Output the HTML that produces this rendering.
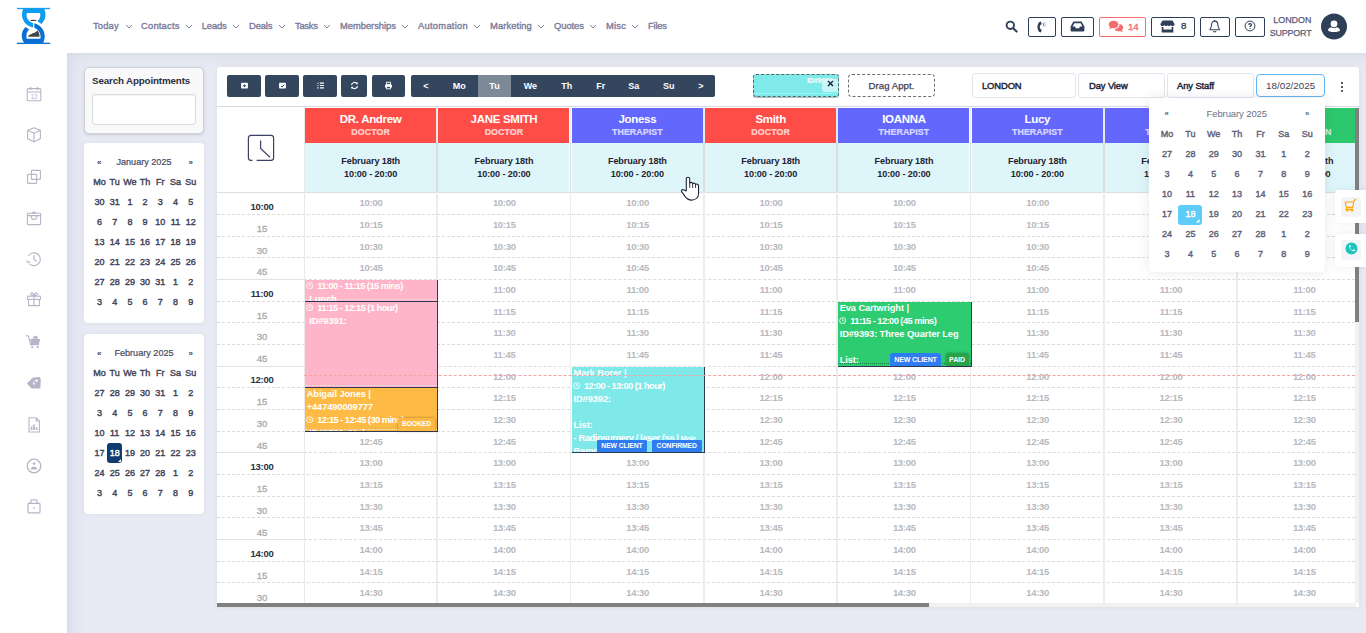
<!DOCTYPE html>
<html><head><meta charset="utf-8"><title>Calendar</title>
<style>
*{box-sizing:border-box;margin:0;padding:0}
html,body{width:1366px;height:633px;overflow:hidden}
body{background:#e7eaf3;font-family:"Liberation Sans",sans-serif;position:relative;color:#3f4254}
.abs{position:absolute}
.t{position:absolute;white-space:nowrap;line-height:1}
#hdr{left:0;top:0;width:1366px;height:53px;background:#fff}
#side{left:0;top:0;width:67px;height:633px;background:#fff}
#sideshadow{left:67px;top:53px;width:1320px;height:600px;box-shadow:inset 14px 12px 14px -10px rgba(90,100,150,.12)}
#topshadow{display:none}
.nav{color:#777998;font-size:9.4px;font-weight:400;-webkit-text-stroke:.33px #777998}
.chev{position:absolute;width:8px;height:5px}
.tb{position:absolute;top:17px;height:20px;border:1px solid #2f3f58;border-radius:2px;background:#fff}
.panel{position:absolute;background:#fff;border-radius:4px;box-shadow:0 0 5px rgba(82,63,105,.07)}
.mc{font-size:9px;color:#3f4358;font-weight:400;-webkit-text-stroke:.4px;text-align:center;width:16px;margin-left:-8px}
.mcw{font-weight:700}
.btn{position:absolute;top:75px;height:22px;background:#34465d;border-radius:2px}
.dn{position:absolute;top:75px;height:22px;color:#fff;font-size:9px;font-weight:700;line-height:22px;text-align:center}
.sel{position:absolute;top:73.3px;height:25px;border:1px solid #e4e6ef;border-radius:3px;background:#fff;font-size:9.4px;font-weight:400;-webkit-text-stroke:.45px;color:#23273a;line-height:23.4px;padding-left:9px;letter-spacing:-.1px}
.colh{position:absolute;top:108px;height:34.6px;color:#fff;text-align:center}
.colh .n{position:absolute;left:0;right:0;top:5px;font-size:11.5px;font-weight:700;line-height:12px;letter-spacing:-0.3px}
.colh .r{position:absolute;left:0;right:0;top:18.5px;font-size:8.8px;font-weight:700;line-height:10px;opacity:.74;letter-spacing:0.1px;-webkit-text-stroke:.2px #fff}
.cold{position:absolute;top:142.5px;height:49.7px;background:#def6f9;color:#1e2233;text-align:center;font-size:9.1px;font-weight:700;line-height:12.8px;padding-top:12.4px;letter-spacing:-0.1px}
.slot{position:absolute;color:#b8b8bd;font-size:9.5px;font-weight:700;text-align:center;width:60px;margin-left:-30px;line-height:10px;letter-spacing:-0.3px}
.hr{position:absolute;color:#2b2f3e;font-size:9.5px;font-weight:700;text-align:center;width:60px;margin-left:-30px;line-height:10px;letter-spacing:-0.3px}
.mn{position:absolute;color:#a9a9ae;-webkit-text-stroke:.3px #a9a9ae;font-size:9.5px;font-weight:400;text-align:center;width:60px;margin-left:-30px;line-height:10px}
.dash{position:absolute;height:0;border-top:1px dashed #dcdcdc}
.solid{position:absolute;height:1px;background:#e2e2e2}
.vl{position:absolute;width:1.85px;background:#ececec}
.ap{position:absolute;color:#fff;font-size:9.3px;font-weight:700;line-height:13px;overflow:hidden;white-space:nowrap;letter-spacing:-0.1px;border-right:1px solid #2c3a55;border-bottom:1px solid #2c3a55}
.ap div{padding-left:1.5px;height:13px}
.ap .tm{letter-spacing:-0.55px}
.bdg{position:absolute;color:#fff;font-size:6.8px;font-weight:700;line-height:11px;height:12px;text-align:center;border-radius:1px;letter-spacing:-0.1px}
.dp{font-size:9px;color:#5e6279;font-weight:400;-webkit-text-stroke:.4px;text-align:center;width:20px;margin-left:-10px}
</style></head><body>

<div class="abs" id="hdr"></div><div class="abs" id="topshadow"></div><div class="abs" id="sideshadow"></div><div class="abs" id="side"></div>
<svg class="abs" style="left:10px;top:2px" width="50" height="50" viewBox="0 0 633 633">
<rect x="88" y="74" width="420" height="17" fill="#1a9ff0"/>
<rect x="88" y="515" width="420" height="17" fill="#0d73d9"/>
<path d="M165 88 L435 88 C462 150 452 225 398 278 L348 243 C388 205 388 165 380 140 L215 140 C198 190 222 240 292 268 L292 322 C175 295 125 195 165 88 Z" fill="#0c9cf0"/>
<path d="M308 268 C425 295 470 420 420 520 L178 520 C128 440 150 360 197 318 L242 347 C205 385 203 430 213 466 L385 466 C396 420 378 360 308 326 Z" fill="#0a70d6"/>
<path d="M228 440 C245 398 318 405 346 362 C368 385 378 420 373 440 Z" fill="#444"/>
<ellipse cx="297" cy="234" rx="42" ry="8" fill="#444"/>
</svg>
<div class="t nav" style="left:93px;top:21.3px;letter-spacing:0.14px">Today</div>
<svg class="chev" style="left:124.5px;top:24px" viewBox="0 0 8 5"><path d="M1 1 L4 4 L7 1" fill="none" stroke="#7e8299" stroke-width="1"/></svg>
<div class="t nav" style="left:141px;top:21.3px;letter-spacing:0.20px">Contacts</div>
<svg class="chev" style="left:185px;top:24px" viewBox="0 0 8 5"><path d="M1 1 L4 4 L7 1" fill="none" stroke="#7e8299" stroke-width="1"/></svg>
<div class="t nav" style="left:201.8px;top:21.3px;letter-spacing:-0.14px">Leads</div>
<svg class="chev" style="left:232px;top:24px" viewBox="0 0 8 5"><path d="M1 1 L4 4 L7 1" fill="none" stroke="#7e8299" stroke-width="1"/></svg>
<div class="t nav" style="left:249px;top:21.3px;letter-spacing:-0.12px">Deals</div>
<svg class="chev" style="left:277.7px;top:24px" viewBox="0 0 8 5"><path d="M1 1 L4 4 L7 1" fill="none" stroke="#7e8299" stroke-width="1"/></svg>
<div class="t nav" style="left:295px;top:21.3px;letter-spacing:-0.27px">Tasks</div>
<svg class="chev" style="left:323px;top:24px" viewBox="0 0 8 5"><path d="M1 1 L4 4 L7 1" fill="none" stroke="#7e8299" stroke-width="1"/></svg>
<div class="t nav" style="left:340px;top:21.3px;letter-spacing:-0.04px">Memberships</div>
<svg class="chev" style="left:401px;top:24px" viewBox="0 0 8 5"><path d="M1 1 L4 4 L7 1" fill="none" stroke="#7e8299" stroke-width="1"/></svg>
<div class="t nav" style="left:418px;top:21.3px;letter-spacing:0.26px">Automation</div>
<svg class="chev" style="left:473px;top:24px" viewBox="0 0 8 5"><path d="M1 1 L4 4 L7 1" fill="none" stroke="#7e8299" stroke-width="1"/></svg>
<div class="t nav" style="left:490px;top:21.3px;letter-spacing:0.08px">Marketing</div>
<svg class="chev" style="left:537px;top:24px" viewBox="0 0 8 5"><path d="M1 1 L4 4 L7 1" fill="none" stroke="#7e8299" stroke-width="1"/></svg>
<div class="t nav" style="left:554px;top:21.3px;letter-spacing:-0.06px">Quotes</div>
<svg class="chev" style="left:589px;top:24px" viewBox="0 0 8 5"><path d="M1 1 L4 4 L7 1" fill="none" stroke="#7e8299" stroke-width="1"/></svg>
<div class="t nav" style="left:606px;top:21.3px;letter-spacing:0.19px">Misc</div>
<svg class="chev" style="left:631px;top:24px" viewBox="0 0 8 5"><path d="M1 1 L4 4 L7 1" fill="none" stroke="#7e8299" stroke-width="1"/></svg>
<div class="t nav" style="left:648px;top:21.3px;letter-spacing:-0.19px">Files</div>
<svg class="abs" style="left:1005px;top:20px" width="13" height="13" viewBox="0 0 13 13"><circle cx="5.3" cy="5.3" r="3.7" fill="none" stroke="#2f3f58" stroke-width="1.9"/><path d="M8.2 8.2 L11.6 11.6" stroke="#2f3f58" stroke-width="2.1" stroke-linecap="round"/></svg>
<div class="tb" style="left:1028px;width:28px"></div>
<svg class="abs" style="left:1035.5px;top:20.5px" width="12" height="12" viewBox="0 0 12 12"><path d="M4.9 .6 L2.9 1.2 C.9 4.4 .9 7.6 2.9 10.8 L4.9 11.4 L5.7 8.7 L4.3 7.9 C3.7 6.6 3.7 5.4 4.3 4.1 L5.7 3.3 Z" fill="#2f3f58"/><path d="M7 2.2 C7.7 2.9 7.7 4.3 7 5" fill="none" stroke="#2f3f58" stroke-width=".8"/><path d="M8.3 1 C9.6 2.3 9.6 4.9 8.3 6.2" fill="none" stroke="#9aa3b0" stroke-width=".8"/></svg>
<div class="tb" style="left:1061px;width:33px"></div>
<svg class="abs" style="left:1070px;top:21px" width="15" height="11" viewBox="0 0 15 11"><path d="M3.4 .6 L11.6 .6 L14.4 5.6 L14.4 9.4 Q14.4 10.4 13.4 10.4 L1.6 10.4 Q.6 10.4 .6 9.4 L.6 5.6 Z M4.3 2.2 L2.6 5.6 L5 5.6 L5.8 7.2 L9.2 7.2 L10 5.6 L12.4 5.6 L10.7 2.2 Z" fill="#2f3f58" fill-rule="evenodd"/></svg>
<div class="tb" style="left:1099px;width:47px;border-color:#f56c6c"></div>
<svg class="abs" style="left:1108px;top:20px" width="16" height="13" viewBox="0 0 16 13"><path d="M5.6 .8 C8.4 .8 10.4 2.4 10.4 4.5 C10.4 6.6 8.4 8.2 5.6 8.2 C5 8.2 4.5 8.1 4 8 C3.2 8.6 2.2 9 1.1 9 C1.6 8.4 2 7.7 2.1 7.1 C1.3 6.4 .8 5.5 .8 4.5 C.8 2.4 2.8 .8 5.6 .8 Z" fill="#f56c6c"/><path d="M11.4 4.1 C13.6 4.4 15.2 5.8 15.2 7.6 C15.2 8.6 14.7 9.5 13.9 10.1 C14 10.8 14.4 11.5 14.9 12.1 C13.8 12.1 12.8 11.7 12 11.1 C11.5 11.2 11 11.3 10.4 11.3 C8.6 11.3 7.1 10.5 6.3 9.3 C9.2 9.1 11.5 7.2 11.5 4.6 Z" fill="#f56c6c"/></svg>
<div class="t" style="left:1128px;top:21.5px;font-size:9.6px;font-weight:400;-webkit-text-stroke:.35px;color:#f26b6b;letter-spacing:-.2px">14</div>
<div class="tb" style="left:1151px;width:44px"></div>
<svg class="abs" style="left:1160px;top:20px" width="15" height="13" viewBox="0 0 15 13"><path d="M2.6 .5 L12.4 .5 L14.6 3.9 C14.6 5.3 13.6 6 12.6 6 C11.7 6 11 5.5 10.7 4.9 C10.4 5.5 9.7 6 8.8 6 C8.2 6 7.7 5.7 7.5 5.3 C7.3 5.7 6.8 6 6.2 6 C5.3 6 4.6 5.5 4.3 4.9 C4 5.5 3.3 6 2.4 6 C1.4 6 .4 5.3 .4 3.9 Z" fill="#2f3f58"/><path d="M1.7 7 L3.4 7 L3.4 9.6 L11.6 9.6 L11.6 7 L13.3 7 L13.3 12.5 L1.7 12.5 Z" fill="#2f3f58"/></svg>
<div class="t" style="left:1181px;top:21.3px;font-size:9.8px;font-weight:400;-webkit-text-stroke:.3px;color:#2f3f58">8</div>
<div class="tb" style="left:1200px;width:30px"></div>
<svg class="abs" style="left:1209.3px;top:19.8px" width="11.4" height="13.3" viewBox="0 0 12 14"><path d="M6 1.2 C3.8 1.2 2.7 3 2.7 5 C2.7 7.6 1.9 8.6 1.1 9.6 L1.1 10.3 L10.9 10.3 L10.9 9.6 C10.1 8.6 9.3 7.6 9.3 5 C9.3 3 8.2 1.2 6 1.2 Z" fill="none" stroke="#2f3f58" stroke-width="1.1" stroke-linejoin="round"/><path d="M6 .2 L6 1.3" stroke="#2f3f58" stroke-width="1.2"/><path d="M4.6 11.6 C4.8 12.9 7.2 12.9 7.4 11.6" fill="none" stroke="#2f3f58" stroke-width="1.1"/></svg>
<div class="tb" style="left:1235px;width:30px"></div>
<svg class="abs" style="left:1244px;top:20.2px" width="12" height="12" viewBox="0 0 12 12"><circle cx="6" cy="6" r="4.9" fill="none" stroke="#2f3f58" stroke-width="1"/><path d="M4.5 4.8 C4.5 3.2 7.5 3.2 7.5 4.8 C7.5 5.9 6 5.9 6 7.1" fill="none" stroke="#2f3f58" stroke-width="1.3"/><circle cx="6" cy="8.6" r=".65" fill="#2f3f58"/></svg>
<div class="t" style="left:1211.5px;width:100px;text-align:right;top:15.7px;font-size:8.9px;color:#5a5c78;-webkit-text-stroke:.25px #5a5c78;font-weight:400;letter-spacing:.05px">LONDON</div>
<div class="t" style="left:1211.5px;width:100px;text-align:right;top:28.7px;font-size:8.9px;color:#56607a;-webkit-text-stroke:.25px #56607a;font-weight:400;letter-spacing:-.15px">SUPPORT</div>
<svg class="abs" style="left:1321px;top:13px" width="26" height="27" viewBox="0 0 26 27"><circle cx="13" cy="13.5" r="13" fill="#2f3f58"/><circle cx="13" cy="10.8" r="3.4" fill="#fff"/><path d="M7 17.2 C7 15.4 9 14.4 10.4 14.2 C12 15.4 14 15.4 15.6 14.2 C17 14.4 19 15.4 19 17.2 C19 18.2 16 19 13 19 C10 19 7 18.2 7 17.2 Z" fill="#fff"/></svg>
<svg class="abs" style="left:25.0px;top:85.0px" width="18" height="18" viewBox="0 0 18 18" fill="none" stroke="#b5b5c8" stroke-width="1.1"><rect x="2.2" y="3.6" width="13.6" height="12.2" rx="1"/><path d="M2.2 7 H15.8 M5.6 1.8 V5 M12.4 1.8 V5"/><text x="9" y="14" font-family="Liberation Sans" font-size="6.4" text-anchor="middle" fill="#b5b5c8" stroke="none">12</text></svg>
<svg class="abs" style="left:25.0px;top:126.0px" width="18" height="18" viewBox="0 0 18 18" fill="none" stroke="#b5b5c8" stroke-width="1.1"><path d="M9 1.8 L15.4 4.4 V12.6 L9 16 L2.6 12.6 V4.4 Z M2.8 4.6 L9 7.2 L15.2 4.6 M9 7.2 V15.8"/></svg>
<svg class="abs" style="left:25.0px;top:167.5px" width="18" height="18" viewBox="0 0 18 18" fill="none" stroke="#b5b5c8" stroke-width="1.1"><rect x="6.4" y="2.4" width="9" height="9" rx=".6"/><rect x="2.6" y="6.4" width="9" height="9" rx=".6"/></svg>
<svg class="abs" style="left:25.0px;top:209.0px" width="18" height="18" viewBox="0 0 18 18" fill="none" stroke="#b5b5c8" stroke-width="1.1"><rect x="2.4" y="4.2" width="13.2" height="11.4" rx=".8"/><path d="M2.4 6.6 H15.6 M6 6.8 C6 11.6 12 11.6 12 6.8 M9 2.2 V4.6 M7.4 3.2 L9 4.4 L10.6 3.2"/></svg>
<svg class="abs" style="left:25.0px;top:250.0px" width="18" height="18" viewBox="0 0 18 18" fill="none" stroke="#b5b5c8" stroke-width="1.1"><path d="M3.4 6 A6.4 6.4 0 1 1 4.4 13.8 M1.6 10.4 L3 12.8 L5.4 11.6 M9 5.2 V9.2 L11.8 11.6"/></svg>
<svg class="abs" style="left:25.0px;top:290.2px" width="18" height="18" viewBox="0 0 18 18" fill="none" stroke="#b5b5c8" stroke-width="1.1"><rect x="2.6" y="6.2" width="12.8" height="3.2"/><path d="M3.6 9.4 V15.6 H14.4 V9.4 M9 6.2 V15.6 M9 6 C7 6 5 4.6 6 3.2 C7 2 8.6 3.6 9 6 C9.4 3.6 11 2 12 3.2 C13 4.6 11 6 9 6"/></svg>
<svg class="abs" style="left:25px;top:333px" width="18" height="18" viewBox="0 0 18 18"><path d="M1.2 2.6 L3.4 3 L5.6 11.6 H14" fill="none" stroke="#b5b5c8" stroke-width="1.1"/><path d="M5 6 H15.2 L14 11 H6.2 Z" fill="#b5b5c8"/><path d="M7.4 5.8 L9.6 2.6 L12.4 3.6 L13.2 5.8 Z" fill="#b5b5c8"/><circle cx="7.2" cy="14.2" r="1.1" fill="#b5b5c8"/><circle cx="12.6" cy="14.2" r="1.1" fill="#b5b5c8"/></svg>
<svg class="abs" style="left:25px;top:374px" width="18" height="18" viewBox="0 0 18 18"><path d="M1.8 9.6 L8 3.4 L14.6 3 L15.8 5.2 L15.4 14.6 L6.6 14.6 Z" fill="#b5b5c8"/><path d="M7.6 8.4 L10.8 5.4 L13.4 6 L8.8 11.2 Z" fill="#fff"/><circle cx="10" cy="8.2" r="1.2" fill="#b5b5c8"/></svg>
<svg class="abs" style="left:25.0px;top:415.5px" width="18" height="18" viewBox="0 0 18 18" fill="none" stroke="#b5b5c8" stroke-width="1.1"><path d="M4 1.8 H11.2 L14.4 5 V16 H4 Z M11.2 1.8 V5 H14.4"/><path d="M6.6 14 V10.4 M9 14 V8.4 M11.6 14 V11.2" stroke-width="1.7"/></svg>
<svg class="abs" style="left:25.0px;top:457.0px" width="18" height="18" viewBox="0 0 18 18" fill="none" stroke="#b5b5c8" stroke-width="1.1"><circle cx="9" cy="9" r="6.8" stroke-width="1.3"/><circle cx="9" cy="6.6" r="1.3" fill="#b5b5c8" stroke="none"/><path d="M6 11.8 C6 9.2 12 9.2 12 11.8 V12.6 H6 Z" fill="#b5b5c8" stroke="none"/></svg>
<svg class="abs" style="left:25.0px;top:497.3px" width="18" height="18" viewBox="0 0 18 18" fill="none" stroke="#b5b5c8" stroke-width="1.1"><rect x="3" y="6.4" width="12" height="9.4" rx=".8" stroke-width="1.2"/><path d="M5.8 6.4 V3.8 Q5.8 2.8 6.8 2.8 H11.2 Q12.2 2.8 12.2 3.8 V6.4" stroke-width="1.2"/><circle cx="9" cy="10.8" r=".9" fill="#b5b5c8" stroke="none"/></svg>
<div class="panel" style="left:84px;top:67px;width:120px;height:66.5px;background:#f9f9f9;border:1px solid #cfd1d9;border-radius:5px;box-shadow:0 1px 3px rgba(0,0,0,.14)"></div>
<div class="t" id="sa" style="left:92px;top:76px;font-size:9.8px;font-weight:700;color:#2b2f3e;letter-spacing:-.15px">Search Appointments</div>
<div class="abs" style="left:92px;top:94px;width:104px;height:31px;background:#fff;border:1px solid #dcdde3;border-radius:3px;box-shadow:inset 0 1px 1px rgba(0,0,0,.05)"></div>
<div class="panel" style="left:84px;top:143px;width:120px;height:180px"></div>
<div class="t" style="left:84px;width:120px;text-align:center;top:157.8px;font-size:9.1px;color:#464a5e;font-weight:400;letter-spacing:0;-webkit-text-stroke:.2px #464a5e">January 2025</div>
<div class="t" style="left:97px;top:158.6px;font-size:8px;color:#3f4254;font-weight:700">«</div>
<div class="t" style="left:188.5px;top:158.6px;font-size:8px;color:#3f4254;font-weight:700">»</div>
<div class="t mc" style="left:99.5px;top:177.5px">Mo</div>
<div class="t mc" style="left:114.7px;top:177.5px">Tu</div>
<div class="t mc" style="left:129.9px;top:177.5px">We</div>
<div class="t mc" style="left:145.1px;top:177.5px">Th</div>
<div class="t mc" style="left:160.3px;top:177.5px">Fr</div>
<div class="t mc" style="left:175.5px;top:177.5px">Sa</div>
<div class="t mc" style="left:190.7px;top:177.5px">Su</div>
<div class="t mc" style="left:99.5px;top:197.5px">30</div>
<div class="t mc" style="left:114.7px;top:197.5px">31</div>
<div class="t mc" style="left:129.9px;top:197.5px">1</div>
<div class="t mc" style="left:145.1px;top:197.5px">2</div>
<div class="t mc" style="left:160.3px;top:197.5px">3</div>
<div class="t mc" style="left:175.5px;top:197.5px">4</div>
<div class="t mc" style="left:190.7px;top:197.5px">5</div>
<div class="t mc" style="left:99.5px;top:217.5px">6</div>
<div class="t mc" style="left:114.7px;top:217.5px">7</div>
<div class="t mc" style="left:129.9px;top:217.5px">8</div>
<div class="t mc" style="left:145.1px;top:217.5px">9</div>
<div class="t mc" style="left:160.3px;top:217.5px">10</div>
<div class="t mc" style="left:175.5px;top:217.5px">11</div>
<div class="t mc" style="left:190.7px;top:217.5px">12</div>
<div class="t mc" style="left:99.5px;top:237.5px">13</div>
<div class="t mc" style="left:114.7px;top:237.5px">14</div>
<div class="t mc" style="left:129.9px;top:237.5px">15</div>
<div class="t mc" style="left:145.1px;top:237.5px">16</div>
<div class="t mc" style="left:160.3px;top:237.5px">17</div>
<div class="t mc" style="left:175.5px;top:237.5px">18</div>
<div class="t mc" style="left:190.7px;top:237.5px">19</div>
<div class="t mc" style="left:99.5px;top:257.5px">20</div>
<div class="t mc" style="left:114.7px;top:257.5px">21</div>
<div class="t mc" style="left:129.9px;top:257.5px">22</div>
<div class="t mc" style="left:145.1px;top:257.5px">23</div>
<div class="t mc" style="left:160.3px;top:257.5px">24</div>
<div class="t mc" style="left:175.5px;top:257.5px">25</div>
<div class="t mc" style="left:190.7px;top:257.5px">26</div>
<div class="t mc" style="left:99.5px;top:277.5px">27</div>
<div class="t mc" style="left:114.7px;top:277.5px">28</div>
<div class="t mc" style="left:129.9px;top:277.5px">29</div>
<div class="t mc" style="left:145.1px;top:277.5px">30</div>
<div class="t mc" style="left:160.3px;top:277.5px">31</div>
<div class="t mc" style="left:175.5px;top:277.5px">1</div>
<div class="t mc" style="left:190.7px;top:277.5px">2</div>
<div class="t mc" style="left:99.5px;top:297.5px">3</div>
<div class="t mc" style="left:114.7px;top:297.5px">4</div>
<div class="t mc" style="left:129.9px;top:297.5px">5</div>
<div class="t mc" style="left:145.1px;top:297.5px">6</div>
<div class="t mc" style="left:160.3px;top:297.5px">7</div>
<div class="t mc" style="left:175.5px;top:297.5px">8</div>
<div class="t mc" style="left:190.7px;top:297.5px">9</div>
<div class="panel" style="left:84px;top:334px;width:120px;height:180px"></div>
<div class="t" style="left:84px;width:120px;text-align:center;top:348.8px;font-size:9.1px;color:#464a5e;font-weight:400;letter-spacing:0;-webkit-text-stroke:.2px #464a5e">February 2025</div>
<div class="t" style="left:97px;top:349.6px;font-size:8px;color:#3f4254;font-weight:700">«</div>
<div class="t" style="left:188.5px;top:349.6px;font-size:8px;color:#3f4254;font-weight:700">»</div>
<div class="t mc" style="left:99.5px;top:368.5px">Mo</div>
<div class="t mc" style="left:114.7px;top:368.5px">Tu</div>
<div class="t mc" style="left:129.9px;top:368.5px">We</div>
<div class="t mc" style="left:145.1px;top:368.5px">Th</div>
<div class="t mc" style="left:160.3px;top:368.5px">Fr</div>
<div class="t mc" style="left:175.5px;top:368.5px">Sa</div>
<div class="t mc" style="left:190.7px;top:368.5px">Su</div>
<div class="t mc" style="left:99.5px;top:388.5px">27</div>
<div class="t mc" style="left:114.7px;top:388.5px">28</div>
<div class="t mc" style="left:129.9px;top:388.5px">29</div>
<div class="t mc" style="left:145.1px;top:388.5px">30</div>
<div class="t mc" style="left:160.3px;top:388.5px">31</div>
<div class="t mc" style="left:175.5px;top:388.5px">1</div>
<div class="t mc" style="left:190.7px;top:388.5px">2</div>
<div class="t mc" style="left:99.5px;top:408.5px">3</div>
<div class="t mc" style="left:114.7px;top:408.5px">4</div>
<div class="t mc" style="left:129.9px;top:408.5px">5</div>
<div class="t mc" style="left:145.1px;top:408.5px">6</div>
<div class="t mc" style="left:160.3px;top:408.5px">7</div>
<div class="t mc" style="left:175.5px;top:408.5px">8</div>
<div class="t mc" style="left:190.7px;top:408.5px">9</div>
<div class="t mc" style="left:99.5px;top:428.5px">10</div>
<div class="t mc" style="left:114.7px;top:428.5px">11</div>
<div class="t mc" style="left:129.9px;top:428.5px">12</div>
<div class="t mc" style="left:145.1px;top:428.5px">13</div>
<div class="t mc" style="left:160.3px;top:428.5px">14</div>
<div class="t mc" style="left:175.5px;top:428.5px">15</div>
<div class="t mc" style="left:190.7px;top:428.5px">16</div>
<div class="t mc" style="left:99.5px;top:448.5px">17</div>
<div class="abs" style="left:107.2px;top:443.0px;width:14.5px;height:20px;background:#0f3d6e;border-radius:3px"></div>
<svg class="abs" style="left:117.7px;top:458.5px" width="3" height="3"><path d="M3 0 V3 H0 Z" fill="#fff"/></svg>
<div class="t mc" style="left:114.7px;top:448.5px;color:#fff">18</div>
<div class="t mc" style="left:129.9px;top:448.5px">19</div>
<div class="t mc" style="left:145.1px;top:448.5px">20</div>
<div class="t mc" style="left:160.3px;top:448.5px">21</div>
<div class="t mc" style="left:175.5px;top:448.5px">22</div>
<div class="t mc" style="left:190.7px;top:448.5px">23</div>
<div class="t mc" style="left:99.5px;top:468.5px">24</div>
<div class="t mc" style="left:114.7px;top:468.5px">25</div>
<div class="t mc" style="left:129.9px;top:468.5px">26</div>
<div class="t mc" style="left:145.1px;top:468.5px">27</div>
<div class="t mc" style="left:160.3px;top:468.5px">28</div>
<div class="t mc" style="left:175.5px;top:468.5px">1</div>
<div class="t mc" style="left:190.7px;top:468.5px">2</div>
<div class="t mc" style="left:99.5px;top:488.5px">3</div>
<div class="t mc" style="left:114.7px;top:488.5px">4</div>
<div class="t mc" style="left:129.9px;top:488.5px">5</div>
<div class="t mc" style="left:145.1px;top:488.5px">6</div>
<div class="t mc" style="left:160.3px;top:488.5px">7</div>
<div class="t mc" style="left:175.5px;top:488.5px">8</div>
<div class="t mc" style="left:190.7px;top:488.5px">9</div>
<div class="panel" style="left:217px;top:67px;width:1142px;height:540px;border-radius:3px 3px 0 0"></div>
<div class="abs" style="left:217px;top:106px;width:1142px;height:1px;background:#d6d8e2"></div>
<div class="btn" style="left:227px;width:34px"></div>
<div class="btn" style="left:265px;width:34px"></div>
<div class="btn" style="left:303px;width:34px"></div>
<div class="btn" style="left:341px;width:26px"></div>
<div class="btn" style="left:372px;width:33px"></div>
<svg class="abs" style="left:239.5px;top:81.3px" width="9" height="9" viewBox="0 0 10 10" fill="none" stroke="#fff" stroke-width="1"><rect x="1.2" y="2" width="7.6" height="6.2" rx=".7" fill="#fff" stroke="none"/><path d="M3.2 5.3 H6.8 M5 3.8 V6.8" stroke="#34465d" stroke-width="1.1"/></svg>
<svg class="abs" style="left:277.5px;top:81.3px" width="9" height="9" viewBox="0 0 10 10" fill="none" stroke="#fff" stroke-width="1"><rect x="1.2" y="2" width="7.6" height="6.2" rx=".7" fill="#fff" stroke="none"/><path d="M3.2 5.4 L4.5 6.6 L6.9 4.1" stroke="#34465d" stroke-width="1.1"/></svg>
<svg class="abs" style="left:315.5px;top:81.3px" width="9" height="9" viewBox="0 0 10 10" fill="none" stroke="#fff" stroke-width="1"><path d="M4.4 2.4 H8.8 M4.4 5 H8.8 M4.4 7.6 H8.8" stroke-width="1.2"/><path d="M1.2 2.2 L1.9 2.9 L3.2 1.5 M1.2 4.8 L1.9 5.5 L3.2 4.1" stroke-width=".8"/><rect x="1.4" y="6.9" width="1.5" height="1.5" fill="#fff" stroke="none"/></svg>
<svg class="abs" style="left:349.5px;top:81.3px" width="9" height="9" viewBox="0 0 10 10" fill="none" stroke="#fff" stroke-width="1"><path d="M1.6 4.4 A3.5 3.5 0 0 1 8 3.2 M8.4 5.6 A3.5 3.5 0 0 1 2 6.8" stroke-width="1.3"/><path d="M8.6 1.2 V3.6 H6.2 Z M1.4 8.8 V6.4 H3.8 Z" fill="#fff" stroke="none"/></svg>
<svg class="abs" style="left:384.0px;top:81.3px" width="9" height="9" viewBox="0 0 10 10" fill="none" stroke="#fff" stroke-width="1"><rect x="1.2" y="4" width="7.6" height="3.4" rx=".7" fill="#fff" stroke="none"/><rect x="2.9" y="1.4" width="4.2" height="2.6" stroke-width="1"/><rect x="2.9" y="5.9" width="4.2" height="2.8" fill="#34465d" stroke-width="1"/></svg>
<div class="btn" style="left:411px;width:304px"></div>
<div class="abs" style="left:478px;top:75px;width:33px;height:22px;background:#7d8996"></div>
<div class="dn" style="left:411px;width:30px">&lt;</div>
<div class="dn" style="left:444.3px;width:30px">Mo</div>
<div class="dn" style="left:479.5px;width:30px">Tu</div>
<div class="dn" style="left:515.4px;width:30px">We</div>
<div class="dn" style="left:551.8px;width:30px">Th</div>
<div class="dn" style="left:585.7px;width:30px">Fr</div>
<div class="dn" style="left:618.8px;width:30px">Sa</div>
<div class="dn" style="left:653.8px;width:30px">Su</div>
<div class="dn" style="left:686px;width:30px">&gt;</div>
<div class="abs" style="left:753px;top:74px;width:86px;height:23px;background:#80eaea;border:1px dashed #5d6468;border-radius:3px;box-shadow:0 1px 0 rgba(40,60,70,.35)"></div>
<div class="abs" style="left:756px;top:93.2px;width:80px;height:0;border-top:1px dotted rgba(255,255,255,.55)"></div>
<div class="t" style="left:807px;top:76.5px;font-size:7.2px;color:#fff;font-weight:700;letter-spacing:-.2px;width:28px;overflow:hidden">ID#9392:</div>
<div class="abs" style="left:822px;top:78.5px;width:16px;height:13px;background:rgba(214,248,249,.8);border-radius:0 0 0 3px"></div>
<svg class="abs" style="left:826.5px;top:80px" width="7" height="7" viewBox="0 0 7 7"><path d="M1 1 L6 6 M6 1 L1 6" stroke="#1e2a3e" stroke-width="1.5"/></svg>
<div class="abs" style="left:848px;top:74px;width:87px;height:23px;background:#fff;border:1px dashed #6e6e6e;border-radius:4px;font-size:9.6px;color:#3f4254;text-align:center;line-height:22px;letter-spacing:.05px;-webkit-text-stroke:.25px #3f4254">Drag Appt.</div>
<div class="sel" style="left:972px;width:104px">LONDON</div>
<div class="sel" style="left:1078px;width:87px;padding-left:10px">Day View</div>
<div class="sel" style="left:1167.1px;width:86.5px">Any Staff</div>
<div class="sel" style="left:1256.2px;width:68.8px;border-color:#62b8f6;border-radius:4px;padding-left:0;text-align:center;font-weight:400;-webkit-text-stroke:0;top:74.2px;height:23.2px;line-height:21.4px;color:#3f4254;font-size:9.8px;letter-spacing:0">18/02/2025</div>
<div class="abs" style="left:1340.5px;top:81.9px;width:2.6px;height:2.6px;border-radius:50%;background:#1e2233"></div>
<div class="abs" style="left:1340.5px;top:85.85px;width:2.6px;height:2.6px;border-radius:50%;background:#1e2233"></div>
<div class="abs" style="left:1340.5px;top:89.8px;width:2.6px;height:2.6px;border-radius:50%;background:#1e2233"></div>
<div class="colh" style="left:304.8px;width:131.4px;background:#fe4d46;overflow:hidden"><div style="position:absolute;left:0;top:0;width:131.7px;height:35px"><div class="n">DR. Andrew</div><div class="r">DOCTOR</div></div></div>
<div class="cold" style="left:304.8px;width:131.4px;overflow:hidden"><div style="width:131.7px">February 18th<br>10:00 - 20:00</div></div>
<div class="colh" style="left:438.1px;width:131.4px;background:#fe4d46;overflow:hidden"><div style="position:absolute;left:0;top:0;width:131.7px;height:35px"><div class="n">JANE SMITH</div><div class="r">DOCTOR</div></div></div>
<div class="cold" style="left:438.1px;width:131.4px;overflow:hidden"><div style="width:131.7px">February 18th<br>10:00 - 20:00</div></div>
<div class="colh" style="left:571.5px;width:131.4px;background:#6467fd;overflow:hidden"><div style="position:absolute;left:0;top:0;width:131.7px;height:35px"><div class="n">Joness</div><div class="r">THERAPIST</div></div></div>
<div class="cold" style="left:571.5px;width:131.4px;overflow:hidden"><div style="width:131.7px">February 18th<br>10:00 - 20:00</div></div>
<div class="colh" style="left:704.8px;width:131.4px;background:#fe4d46;overflow:hidden"><div style="position:absolute;left:0;top:0;width:131.7px;height:35px"><div class="n">Smith</div><div class="r">DOCTOR</div></div></div>
<div class="cold" style="left:704.8px;width:131.4px;overflow:hidden"><div style="width:131.7px">February 18th<br>10:00 - 20:00</div></div>
<div class="colh" style="left:838.1px;width:131.4px;background:#6467fd;overflow:hidden"><div style="position:absolute;left:0;top:0;width:131.7px;height:35px"><div class="n">IOANNA</div><div class="r">THERAPIST</div></div></div>
<div class="cold" style="left:838.1px;width:131.4px;overflow:hidden"><div style="width:131.7px">February 18th<br>10:00 - 20:00</div></div>
<div class="colh" style="left:971.5px;width:131.4px;background:#6467fd;overflow:hidden"><div style="position:absolute;left:0;top:0;width:131.7px;height:35px"><div class="n">Lucy</div><div class="r">THERAPIST</div></div></div>
<div class="cold" style="left:971.5px;width:131.4px;overflow:hidden"><div style="width:131.7px">February 18th<br>10:00 - 20:00</div></div>
<div class="colh" style="left:1104.8px;width:131.4px;background:#6467fd;overflow:hidden"><div style="position:absolute;left:0;top:0;width:131.7px;height:35px"><div class="n">Tina</div><div class="r">THERAPIST</div></div></div>
<div class="cold" style="left:1104.8px;width:131.4px;overflow:hidden"><div style="width:131.7px">February 18th<br>10:00 - 20:00</div></div>
<div class="colh" style="left:1238.1px;width:116.9px;background:#2dc86e;overflow:hidden"><div style="position:absolute;left:0;top:0;width:131.7px;height:35px"><div class="n">Karen</div><div class="r">TECHNICIAN</div></div></div>
<div class="cold" style="left:1238.1px;width:116.9px;overflow:hidden"><div style="width:131.7px">February 18th<br>10:00 - 20:00</div></div>
<svg class="abs" style="left:246px;top:133px" width="30" height="30" viewBox="0 0 30 30" fill="none" stroke="#3b4266" stroke-width="1.2"><path d="M6.5 27.4 H5 Q2.4 27.4 2.4 24.8 V5 Q2.4 2.4 5 2.4 H25 Q27.6 2.4 27.6 5 V24.8 Q27.6 27.4 25 27.4 H10.6"/><path d="M14.6 7.6 V15.4 L24 24.2"/></svg>
<div class="solid" style="left:217px;top:192px;width:1138px;background:#dedede"></div>
<div class="dash" style="left:217px;top:214px;width:1138px"></div>
<div class="dash" style="left:217px;top:236px;width:1138px"></div>
<div class="dash" style="left:217px;top:257px;width:1138px"></div>
<div class="solid" style="left:217px;top:279px;width:87px"></div>
<div class="dash" style="left:304px;top:279px;width:1051px"></div>
<div class="dash" style="left:217px;top:301px;width:1138px"></div>
<div class="dash" style="left:217px;top:322px;width:1138px"></div>
<div class="dash" style="left:217px;top:344px;width:1138px"></div>
<div class="solid" style="left:217px;top:366px;width:87px"></div>
<div class="dash" style="left:304px;top:366px;width:1051px"></div>
<div class="dash" style="left:217px;top:387px;width:1138px"></div>
<div class="dash" style="left:217px;top:409px;width:1138px"></div>
<div class="dash" style="left:217px;top:431px;width:1138px"></div>
<div class="solid" style="left:217px;top:452px;width:87px"></div>
<div class="dash" style="left:304px;top:452px;width:1051px"></div>
<div class="dash" style="left:217px;top:474px;width:1138px"></div>
<div class="dash" style="left:217px;top:496px;width:1138px"></div>
<div class="dash" style="left:217px;top:517px;width:1138px"></div>
<div class="solid" style="left:217px;top:539px;width:87px"></div>
<div class="dash" style="left:304px;top:539px;width:1051px"></div>
<div class="dash" style="left:217px;top:561px;width:1138px"></div>
<div class="dash" style="left:217px;top:582px;width:1138px"></div>
<div class="dash" style="left:217px;top:604px;width:1138px"></div>
<div class="abs" style="left:304px;top:108px;width:1px;height:495px;background:#e9e9e9"></div>
<div class="vl" style="left:436.28px;top:108px;height:34.6px;background:#e3ecec"></div>
<div class="vl" style="left:436.28px;top:142.6px;height:49.4px;background:#dcdcdc"></div>
<div class="vl" style="left:436.28px;top:192px;height:411px"></div>
<div class="vl" style="left:569.61px;top:108px;height:34.6px;background:#e3ecec"></div>
<div class="vl" style="left:569.61px;top:142.6px;height:49.4px;background:#dcdcdc"></div>
<div class="vl" style="left:569.61px;top:192px;height:411px"></div>
<div class="vl" style="left:702.94px;top:108px;height:34.6px;background:#e3ecec"></div>
<div class="vl" style="left:702.94px;top:142.6px;height:49.4px;background:#dcdcdc"></div>
<div class="vl" style="left:702.94px;top:192px;height:411px"></div>
<div class="vl" style="left:836.27px;top:108px;height:34.6px;background:#e3ecec"></div>
<div class="vl" style="left:836.27px;top:142.6px;height:49.4px;background:#dcdcdc"></div>
<div class="vl" style="left:836.27px;top:192px;height:411px"></div>
<div class="vl" style="left:969.60px;top:108px;height:34.6px;background:#e3ecec"></div>
<div class="vl" style="left:969.60px;top:142.6px;height:49.4px;background:#dcdcdc"></div>
<div class="vl" style="left:969.60px;top:192px;height:411px"></div>
<div class="vl" style="left:1102.93px;top:108px;height:34.6px;background:#e3ecec"></div>
<div class="vl" style="left:1102.93px;top:142.6px;height:49.4px;background:#dcdcdc"></div>
<div class="vl" style="left:1102.93px;top:192px;height:411px"></div>
<div class="vl" style="left:1236.26px;top:108px;height:34.6px;background:#e3ecec"></div>
<div class="vl" style="left:1236.26px;top:142.6px;height:49.4px;background:#dcdcdc"></div>
<div class="vl" style="left:1236.26px;top:192px;height:411px"></div>
<div class="hr" style="left:262px;top:201.9px">10:00</div>
<div class="slot" style="left:371.0px;top:198.1px">10:00</div>
<div class="slot" style="left:504.3px;top:198.1px">10:00</div>
<div class="slot" style="left:637.7px;top:198.1px">10:00</div>
<div class="slot" style="left:771.0px;top:198.1px">10:00</div>
<div class="slot" style="left:904.3px;top:198.1px">10:00</div>
<div class="slot" style="left:1037.7px;top:198.1px">10:00</div>
<div class="slot" style="left:1171.0px;top:198.1px">10:00</div>
<div class="slot" style="left:1304.3px;top:198.1px">10:00</div>
<div class="mn" style="left:262px;top:224.0px">15</div>
<div class="slot" style="left:371.0px;top:219.8px">10:15</div>
<div class="slot" style="left:504.3px;top:219.8px">10:15</div>
<div class="slot" style="left:637.7px;top:219.8px">10:15</div>
<div class="slot" style="left:771.0px;top:219.8px">10:15</div>
<div class="slot" style="left:904.3px;top:219.8px">10:15</div>
<div class="slot" style="left:1037.7px;top:219.8px">10:15</div>
<div class="slot" style="left:1171.0px;top:219.8px">10:15</div>
<div class="slot" style="left:1304.3px;top:219.8px">10:15</div>
<div class="mn" style="left:262px;top:245.7px">30</div>
<div class="slot" style="left:371.0px;top:241.5px">10:30</div>
<div class="slot" style="left:504.3px;top:241.5px">10:30</div>
<div class="slot" style="left:637.7px;top:241.5px">10:30</div>
<div class="slot" style="left:771.0px;top:241.5px">10:30</div>
<div class="slot" style="left:904.3px;top:241.5px">10:30</div>
<div class="slot" style="left:1037.7px;top:241.5px">10:30</div>
<div class="slot" style="left:1171.0px;top:241.5px">10:30</div>
<div class="slot" style="left:1304.3px;top:241.5px">10:30</div>
<div class="mn" style="left:262px;top:267.3px">45</div>
<div class="slot" style="left:371.0px;top:263.1px">10:45</div>
<div class="slot" style="left:504.3px;top:263.1px">10:45</div>
<div class="slot" style="left:637.7px;top:263.1px">10:45</div>
<div class="slot" style="left:771.0px;top:263.1px">10:45</div>
<div class="slot" style="left:904.3px;top:263.1px">10:45</div>
<div class="slot" style="left:1037.7px;top:263.1px">10:45</div>
<div class="slot" style="left:1171.0px;top:263.1px">10:45</div>
<div class="slot" style="left:1304.3px;top:263.1px">10:45</div>
<div class="hr" style="left:262px;top:288.6px">11:00</div>
<div class="slot" style="left:371.0px;top:284.8px">11:00</div>
<div class="slot" style="left:504.3px;top:284.8px">11:00</div>
<div class="slot" style="left:637.7px;top:284.8px">11:00</div>
<div class="slot" style="left:771.0px;top:284.8px">11:00</div>
<div class="slot" style="left:904.3px;top:284.8px">11:00</div>
<div class="slot" style="left:1037.7px;top:284.8px">11:00</div>
<div class="slot" style="left:1171.0px;top:284.8px">11:00</div>
<div class="slot" style="left:1304.3px;top:284.8px">11:00</div>
<div class="mn" style="left:262px;top:310.7px">15</div>
<div class="slot" style="left:371.0px;top:306.5px">11:15</div>
<div class="slot" style="left:504.3px;top:306.5px">11:15</div>
<div class="slot" style="left:637.7px;top:306.5px">11:15</div>
<div class="slot" style="left:771.0px;top:306.5px">11:15</div>
<div class="slot" style="left:904.3px;top:306.5px">11:15</div>
<div class="slot" style="left:1037.7px;top:306.5px">11:15</div>
<div class="slot" style="left:1171.0px;top:306.5px">11:15</div>
<div class="slot" style="left:1304.3px;top:306.5px">11:15</div>
<div class="mn" style="left:262px;top:332.4px">30</div>
<div class="slot" style="left:371.0px;top:328.2px">11:30</div>
<div class="slot" style="left:504.3px;top:328.2px">11:30</div>
<div class="slot" style="left:637.7px;top:328.2px">11:30</div>
<div class="slot" style="left:771.0px;top:328.2px">11:30</div>
<div class="slot" style="left:904.3px;top:328.2px">11:30</div>
<div class="slot" style="left:1037.7px;top:328.2px">11:30</div>
<div class="slot" style="left:1171.0px;top:328.2px">11:30</div>
<div class="slot" style="left:1304.3px;top:328.2px">11:30</div>
<div class="mn" style="left:262px;top:354.1px">45</div>
<div class="slot" style="left:371.0px;top:349.9px">11:45</div>
<div class="slot" style="left:504.3px;top:349.9px">11:45</div>
<div class="slot" style="left:637.7px;top:349.9px">11:45</div>
<div class="slot" style="left:771.0px;top:349.9px">11:45</div>
<div class="slot" style="left:904.3px;top:349.9px">11:45</div>
<div class="slot" style="left:1037.7px;top:349.9px">11:45</div>
<div class="slot" style="left:1171.0px;top:349.9px">11:45</div>
<div class="slot" style="left:1304.3px;top:349.9px">11:45</div>
<div class="hr" style="left:262px;top:375.3px">12:00</div>
<div class="slot" style="left:371.0px;top:371.5px">12:00</div>
<div class="slot" style="left:504.3px;top:371.5px">12:00</div>
<div class="slot" style="left:637.7px;top:371.5px">12:00</div>
<div class="slot" style="left:771.0px;top:371.5px">12:00</div>
<div class="slot" style="left:904.3px;top:371.5px">12:00</div>
<div class="slot" style="left:1037.7px;top:371.5px">12:00</div>
<div class="slot" style="left:1171.0px;top:371.5px">12:00</div>
<div class="slot" style="left:1304.3px;top:371.5px">12:00</div>
<div class="mn" style="left:262px;top:397.4px">15</div>
<div class="slot" style="left:371.0px;top:393.2px">12:15</div>
<div class="slot" style="left:504.3px;top:393.2px">12:15</div>
<div class="slot" style="left:637.7px;top:393.2px">12:15</div>
<div class="slot" style="left:771.0px;top:393.2px">12:15</div>
<div class="slot" style="left:904.3px;top:393.2px">12:15</div>
<div class="slot" style="left:1037.7px;top:393.2px">12:15</div>
<div class="slot" style="left:1171.0px;top:393.2px">12:15</div>
<div class="slot" style="left:1304.3px;top:393.2px">12:15</div>
<div class="mn" style="left:262px;top:419.1px">30</div>
<div class="slot" style="left:371.0px;top:414.9px">12:30</div>
<div class="slot" style="left:504.3px;top:414.9px">12:30</div>
<div class="slot" style="left:637.7px;top:414.9px">12:30</div>
<div class="slot" style="left:771.0px;top:414.9px">12:30</div>
<div class="slot" style="left:904.3px;top:414.9px">12:30</div>
<div class="slot" style="left:1037.7px;top:414.9px">12:30</div>
<div class="slot" style="left:1171.0px;top:414.9px">12:30</div>
<div class="slot" style="left:1304.3px;top:414.9px">12:30</div>
<div class="mn" style="left:262px;top:440.8px">45</div>
<div class="slot" style="left:371.0px;top:436.6px">12:45</div>
<div class="slot" style="left:504.3px;top:436.6px">12:45</div>
<div class="slot" style="left:637.7px;top:436.6px">12:45</div>
<div class="slot" style="left:771.0px;top:436.6px">12:45</div>
<div class="slot" style="left:904.3px;top:436.6px">12:45</div>
<div class="slot" style="left:1037.7px;top:436.6px">12:45</div>
<div class="slot" style="left:1171.0px;top:436.6px">12:45</div>
<div class="slot" style="left:1304.3px;top:436.6px">12:45</div>
<div class="hr" style="left:262px;top:462.1px">13:00</div>
<div class="slot" style="left:371.0px;top:458.3px">13:00</div>
<div class="slot" style="left:504.3px;top:458.3px">13:00</div>
<div class="slot" style="left:637.7px;top:458.3px">13:00</div>
<div class="slot" style="left:771.0px;top:458.3px">13:00</div>
<div class="slot" style="left:904.3px;top:458.3px">13:00</div>
<div class="slot" style="left:1037.7px;top:458.3px">13:00</div>
<div class="slot" style="left:1171.0px;top:458.3px">13:00</div>
<div class="slot" style="left:1304.3px;top:458.3px">13:00</div>
<div class="mn" style="left:262px;top:484.1px">15</div>
<div class="slot" style="left:371.0px;top:479.9px">13:15</div>
<div class="slot" style="left:504.3px;top:479.9px">13:15</div>
<div class="slot" style="left:637.7px;top:479.9px">13:15</div>
<div class="slot" style="left:771.0px;top:479.9px">13:15</div>
<div class="slot" style="left:904.3px;top:479.9px">13:15</div>
<div class="slot" style="left:1037.7px;top:479.9px">13:15</div>
<div class="slot" style="left:1171.0px;top:479.9px">13:15</div>
<div class="slot" style="left:1304.3px;top:479.9px">13:15</div>
<div class="mn" style="left:262px;top:505.8px">30</div>
<div class="slot" style="left:371.0px;top:501.6px">13:30</div>
<div class="slot" style="left:504.3px;top:501.6px">13:30</div>
<div class="slot" style="left:637.7px;top:501.6px">13:30</div>
<div class="slot" style="left:771.0px;top:501.6px">13:30</div>
<div class="slot" style="left:904.3px;top:501.6px">13:30</div>
<div class="slot" style="left:1037.7px;top:501.6px">13:30</div>
<div class="slot" style="left:1171.0px;top:501.6px">13:30</div>
<div class="slot" style="left:1304.3px;top:501.6px">13:30</div>
<div class="mn" style="left:262px;top:527.5px">45</div>
<div class="slot" style="left:371.0px;top:523.3px">13:45</div>
<div class="slot" style="left:504.3px;top:523.3px">13:45</div>
<div class="slot" style="left:637.7px;top:523.3px">13:45</div>
<div class="slot" style="left:771.0px;top:523.3px">13:45</div>
<div class="slot" style="left:904.3px;top:523.3px">13:45</div>
<div class="slot" style="left:1037.7px;top:523.3px">13:45</div>
<div class="slot" style="left:1171.0px;top:523.3px">13:45</div>
<div class="slot" style="left:1304.3px;top:523.3px">13:45</div>
<div class="hr" style="left:262px;top:548.8px">14:00</div>
<div class="slot" style="left:371.0px;top:545.0px">14:00</div>
<div class="slot" style="left:504.3px;top:545.0px">14:00</div>
<div class="slot" style="left:637.7px;top:545.0px">14:00</div>
<div class="slot" style="left:771.0px;top:545.0px">14:00</div>
<div class="slot" style="left:904.3px;top:545.0px">14:00</div>
<div class="slot" style="left:1037.7px;top:545.0px">14:00</div>
<div class="slot" style="left:1171.0px;top:545.0px">14:00</div>
<div class="slot" style="left:1304.3px;top:545.0px">14:00</div>
<div class="mn" style="left:262px;top:570.9px">15</div>
<div class="slot" style="left:371.0px;top:566.7px">14:15</div>
<div class="slot" style="left:504.3px;top:566.7px">14:15</div>
<div class="slot" style="left:637.7px;top:566.7px">14:15</div>
<div class="slot" style="left:771.0px;top:566.7px">14:15</div>
<div class="slot" style="left:904.3px;top:566.7px">14:15</div>
<div class="slot" style="left:1037.7px;top:566.7px">14:15</div>
<div class="slot" style="left:1171.0px;top:566.7px">14:15</div>
<div class="slot" style="left:1304.3px;top:566.7px">14:15</div>
<div class="mn" style="left:262px;top:592.5px">30</div>
<div class="slot" style="left:371.0px;top:588.3px">14:30</div>
<div class="slot" style="left:504.3px;top:588.3px">14:30</div>
<div class="slot" style="left:637.7px;top:588.3px">14:30</div>
<div class="slot" style="left:771.0px;top:588.3px">14:30</div>
<div class="slot" style="left:904.3px;top:588.3px">14:30</div>
<div class="slot" style="left:1037.7px;top:588.3px">14:30</div>
<div class="slot" style="left:1171.0px;top:588.3px">14:30</div>
<div class="slot" style="left:1304.3px;top:588.3px">14:30</div>
<div class="ap" style="left:305.2px;top:280px;width:133.2px;height:22px;background:#ffb5c9"><div class="tm"><svg width="7.4" height="7.4" viewBox="0 0 8 8" style="vertical-align:-0.3px;margin-right:3.6px;margin-left:-0.5px"><circle cx="4" cy="4" r="3.3" fill="none" stroke="#fff" stroke-width=".9"/><path d="M4 2 V4.2 H5.8" fill="none" stroke="#fff" stroke-width=".9"/></svg>11:00 - 11:15 (15 mins)</div><div>&nbsp;Lunch</div><div style="position:absolute;left:0;right:0;bottom:1.5px;height:0;border-top:1px dotted rgba(255,255,255,.5);padding:0"></div></div>
<div class="ap" style="left:305.2px;top:302px;width:133.2px;height:86px;background:#ffb5c9"><div class="tm"><svg width="7.4" height="7.4" viewBox="0 0 8 8" style="vertical-align:-0.3px;margin-right:3.6px;margin-left:-0.5px"><circle cx="4" cy="4" r="3.3" fill="none" stroke="#fff" stroke-width=".9"/><path d="M4 2 V4.2 H5.8" fill="none" stroke="#fff" stroke-width=".9"/></svg>11:15 - 12:15 (1 hour)</div><div>&nbsp;ID#9391:</div><div style="position:absolute;left:0;right:0;bottom:1.5px;height:0;border-top:1px dotted rgba(255,255,255,.5);padding:0"></div></div>
<div class="ap" style="left:305.2px;top:388px;width:133.2px;height:44px;background:#fdbb45"><div>Abigail Jones |</div><div>+447490009777</div><div class="tm"><svg width="7.4" height="7.4" viewBox="0 0 8 8" style="vertical-align:-0.3px;margin-right:3.6px;margin-left:-0.5px"><circle cx="4" cy="4" r="3.3" fill="none" stroke="#fff" stroke-width=".9"/><path d="M4 2 V4.2 H5.8" fill="none" stroke="#fff" stroke-width=".9"/></svg>12:15 - 12:45 (30 mins)</div><div>&nbsp;ID#9390: Moles removal full body</div><div style="position:absolute;left:0;right:0;bottom:1.5px;height:0;border-top:1px dotted rgba(255,255,255,.5);padding:0"></div></div>
<div class="bdg" style="left:398px;top:418.3px;width:37px;height:13px;line-height:12.5px;background:#fbb842;border-radius:2px 2px 0 0;box-shadow:0 0 3px rgba(80,40,0,.45)">BOOKED</div>
<div class="ap" style="left:572px;top:366.6px;width:133px;height:86px;background:#7fe9ea"><div>Mark Borer |</div><div class="tm"><svg width="7.4" height="7.4" viewBox="0 0 8 8" style="vertical-align:-0.3px;margin-right:3.6px;margin-left:-0.5px"><circle cx="4" cy="4" r="3.3" fill="none" stroke="#fff" stroke-width=".9"/><path d="M4 2 V4.2 H5.8" fill="none" stroke="#fff" stroke-width=".9"/></svg>12:00 - 13:00 (1 hour)</div><div>ID#9392:</div><div></div><div>List:</div><div><span style='letter-spacing:-.4px'>- Radiosurgery / laser (ss | </span><span style='font-size:7px;letter-spacing:-.2px'>Mole</span></div><div>Removal</div></div>
<div class="bdg" style="left:597px;top:440px;width:50px;background:#2f7bf0">NEW CLIENT</div>
<div class="bdg" style="left:652px;top:440px;width:49.5px;background:#2f7bf0">CONFIRMED</div>
<div class="ap" style="left:838.2px;top:302px;width:133.8px;height:64.8px;background:#2ecc71"><div>Eva Cartwright |</div><div class="tm"><svg width="7.4" height="7.4" viewBox="0 0 8 8" style="vertical-align:-0.3px;margin-right:3.6px;margin-left:-0.5px"><circle cx="4" cy="4" r="3.3" fill="none" stroke="#fff" stroke-width=".9"/><path d="M4 2 V4.2 H5.8" fill="none" stroke="#fff" stroke-width=".9"/></svg>11:15 - 12:00 (45 mins)</div><div>ID#9393: Three Quarter Leg</div><div></div><div>List:</div><div style="position:absolute;left:0;right:0;bottom:1.5px;height:0;border-top:1px dotted rgba(0,70,30,.55);padding:0"></div></div>
<div class="bdg" style="left:890px;top:352.8px;width:51px;height:13.2px;line-height:13px;background:#2f7bf0;font-size:7px;border-radius:3px 3px 0 0">NEW CLIENT</div>
<div class="bdg" style="left:945.5px;top:352.8px;width:23px;height:13.2px;line-height:13px;background:#27a34a;font-size:7px;border-radius:3px 3px 0 0;box-shadow:0 0 3px rgba(0,0,0,.3)">PAID</div>
<div class="abs" style="left:304px;top:375px;width:1051px;height:0;border-top:1px dashed #f3a3a3"></div>
<div class="abs" style="left:217px;top:603px;width:1139px;height:4px;background:#f1f1f1"></div>
<div class="abs" style="left:217px;top:603px;width:712px;height:4px;background:#808080"></div>
<div class="abs" style="left:1355px;top:108px;width:4px;height:495px;background:#f1f1f1"></div>
<div class="abs" style="left:1355.2px;top:108px;width:3.8px;height:214px;background:#808080"></div>
<div class="abs" style="left:1148.5px;top:98px;width:176.5px;height:174px;background:#fff;border-radius:4px;box-shadow:0 0 12px rgba(82,63,105,.14)"></div>
<div class="t" style="left:1148.5px;width:176.5px;text-align:center;top:108.9px;font-size:9.5px;color:#6c7088;font-weight:400;letter-spacing:-.1px">February 2025</div>
<div class="t" style="left:1164.5px;top:110px;font-size:7.8px;color:#5e6278;font-weight:700">«</div>
<div class="t" style="left:1305px;top:110px;font-size:7.8px;color:#5e6278;font-weight:700">»</div>
<div class="t dp" style="left:1167.0px;top:129.5px">Mo</div>
<div class="t dp" style="left:1190.4px;top:129.5px">Tu</div>
<div class="t dp" style="left:1213.7px;top:129.5px">We</div>
<div class="t dp" style="left:1237.1px;top:129.5px">Th</div>
<div class="t dp" style="left:1260.5px;top:129.5px">Fr</div>
<div class="t dp" style="left:1283.8px;top:129.5px">Sa</div>
<div class="t dp" style="left:1307.2px;top:129.5px">Su</div>
<div class="t dp" style="left:1167.0px;top:149.5px">27</div>
<div class="t dp" style="left:1190.4px;top:149.5px">28</div>
<div class="t dp" style="left:1213.7px;top:149.5px">29</div>
<div class="t dp" style="left:1237.1px;top:149.5px">30</div>
<div class="t dp" style="left:1260.5px;top:149.5px">31</div>
<div class="t dp" style="left:1283.8px;top:149.5px">1</div>
<div class="t dp" style="left:1307.2px;top:149.5px">2</div>
<div class="t dp" style="left:1167.0px;top:169.5px">3</div>
<div class="t dp" style="left:1190.4px;top:169.5px">4</div>
<div class="t dp" style="left:1213.7px;top:169.5px">5</div>
<div class="t dp" style="left:1237.1px;top:169.5px">6</div>
<div class="t dp" style="left:1260.5px;top:169.5px">7</div>
<div class="t dp" style="left:1283.8px;top:169.5px">8</div>
<div class="t dp" style="left:1307.2px;top:169.5px">9</div>
<div class="t dp" style="left:1167.0px;top:189.5px">10</div>
<div class="t dp" style="left:1190.4px;top:189.5px">11</div>
<div class="t dp" style="left:1213.7px;top:189.5px">12</div>
<div class="t dp" style="left:1237.1px;top:189.5px">13</div>
<div class="t dp" style="left:1260.5px;top:189.5px">14</div>
<div class="t dp" style="left:1283.8px;top:189.5px">15</div>
<div class="t dp" style="left:1307.2px;top:189.5px">16</div>
<div class="t dp" style="left:1167.0px;top:209.5px">17</div>
<div class="abs" style="left:1178px;top:205px;width:24px;height:20px;background:#5ecbf9;border-radius:3px"></div>
<svg class="abs" style="left:1196px;top:219px" width="3.5" height="3.5"><path d="M3.5 0 V3.5 H0 Z" fill="#fff"/></svg>
<div class="t dp" style="left:1190.4px;top:209.5px;color:#fff">18</div>
<div class="t dp" style="left:1213.7px;top:209.5px">19</div>
<div class="t dp" style="left:1237.1px;top:209.5px">20</div>
<div class="t dp" style="left:1260.5px;top:209.5px">21</div>
<div class="t dp" style="left:1283.8px;top:209.5px">22</div>
<div class="t dp" style="left:1307.2px;top:209.5px">23</div>
<div class="t dp" style="left:1167.0px;top:229.5px">24</div>
<div class="t dp" style="left:1190.4px;top:229.5px">25</div>
<div class="t dp" style="left:1213.7px;top:229.5px">26</div>
<div class="t dp" style="left:1237.1px;top:229.5px">27</div>
<div class="t dp" style="left:1260.5px;top:229.5px">28</div>
<div class="t dp" style="left:1283.8px;top:229.5px">1</div>
<div class="t dp" style="left:1307.2px;top:229.5px">2</div>
<div class="t dp" style="left:1167.0px;top:249.5px">3</div>
<div class="t dp" style="left:1190.4px;top:249.5px">4</div>
<div class="t dp" style="left:1213.7px;top:249.5px">5</div>
<div class="t dp" style="left:1237.1px;top:249.5px">6</div>
<div class="t dp" style="left:1260.5px;top:249.5px">7</div>
<div class="t dp" style="left:1283.8px;top:249.5px">8</div>
<div class="t dp" style="left:1307.2px;top:249.5px">9</div>
<div class="abs" style="left:1335px;top:190px;width:36px;height:33px;background:#fff;border-radius:4px 0 0 4px;box-shadow:0 0 8px rgba(82,63,105,.1)"></div>
<div class="abs" style="left:1341px;top:196.5px;width:20px;height:20px;background:#f3f4f8;border-radius:3px"></div>
<div class="abs" style="left:1335px;top:233.5px;width:36px;height:33px;background:#fff;border-radius:4px 0 0 4px;box-shadow:0 0 8px rgba(82,63,105,.1)"></div>
<div class="abs" style="left:1341px;top:240.0px;width:20px;height:20px;background:#f3f4f8;border-radius:3px"></div>
<svg class="abs" style="left:1344px;top:198.5px" width="14" height="14" viewBox="0 0 14 14" fill="none" stroke="#ffa800" stroke-width="1.1"><path d="M1 3 H9.6 L8.8 8.4 H2.4 L1 3 M9.6 3 L10.6 .9 L12.4 .5 M2.6 8.4 L2.2 10.4 H9.4"/><circle cx="3.4" cy="11" r="1"/><circle cx="8" cy="11" r="1"/></svg>
<svg class="abs" style="left:1344.5px;top:241.5px" width="13" height="13" viewBox="0 0 13 13"><circle cx="6.5" cy="6.5" r="6" fill="#1bc5bd"/><path d="M4.2 3 L5.4 3.2 L5.7 5 L4.9 5.6 C5.3 6.9 6.2 7.8 7.5 8.2 L8.1 7.4 L9.9 7.7 L10 8.9 C8.4 10.6 2.9 6.6 4.2 3 Z" fill="#fff"/></svg>
<svg class="abs" style="left:670px;top:165px" width="40" height="40" viewBox="0 0 633 633"><path d="M258 410 L258 215 C258 188 312 188 312 215 L312 285 C330 268 356 274 358 296 C376 280 401 286 404 308 C426 294 452 306 452 332 L452 450 C452 520 400 556 340 556 C290 556 256 522 235 492 L186 426 C170 404 192 384 214 392 Z" fill="#fff" stroke="#1a1f33" stroke-width="17" stroke-linejoin="round"/><path d="M312 285 V356 M358 298 V356 M404 310 V356" stroke="#1a1f33" stroke-width="14" fill="none" stroke-linecap="round"/></svg>
</body></html>
